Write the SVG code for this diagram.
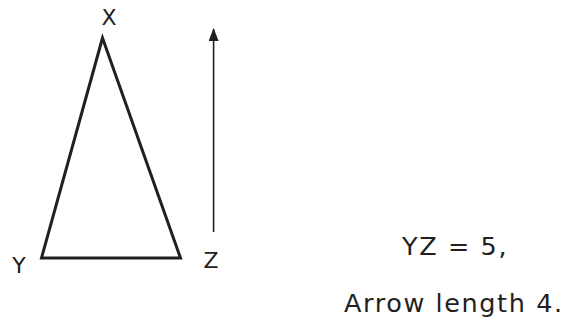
<svg xmlns="http://www.w3.org/2000/svg" width="581" height="322" viewBox="0 0 581 322">
<style>
.lbl{font-family:"DejaVu Sans",Verdana,sans-serif;font-size:22px;fill:#231f20}
.note{font-family:"DejaVu Sans",Verdana,sans-serif;font-size:25.5px;fill:#231f20;letter-spacing:1.6px}
</style>
<defs>
<marker id="ah" viewBox="0 0 13 10" refX="12" refY="5" markerWidth="13" markerHeight="10" markerUnits="userSpaceOnUse" orient="auto">
<path d="M0,0 L13,5 L0,10 Z" fill="#231f20"/>
</marker>
</defs>
<rect width="581" height="322" fill="#fff"/>
<g id="triangle">
<polygon points="102.5,38 41.5,258 180.5,258" fill="none" stroke="#231f20" stroke-width="3" stroke-linejoin="miter"/>
</g>
<g id="labels">
<text class="lbl" x="109" y="25" text-anchor="middle">X</text>
<text class="lbl" x="19" y="273" text-anchor="middle">Y</text>
<text class="lbl" x="211" y="268" text-anchor="middle">Z</text>
</g>
<g id="connectors">
<line x1="213.6" y1="232" x2="213.6" y2="29" stroke="#231f20" stroke-width="1.6" marker-end="url(#ah)"/>
</g>
<g id="notes">
<text class="note" x="402" y="255">YZ = 5,</text>
<text class="note" x="344" y="312">Arrow length 4.</text>
</g>
</svg>
